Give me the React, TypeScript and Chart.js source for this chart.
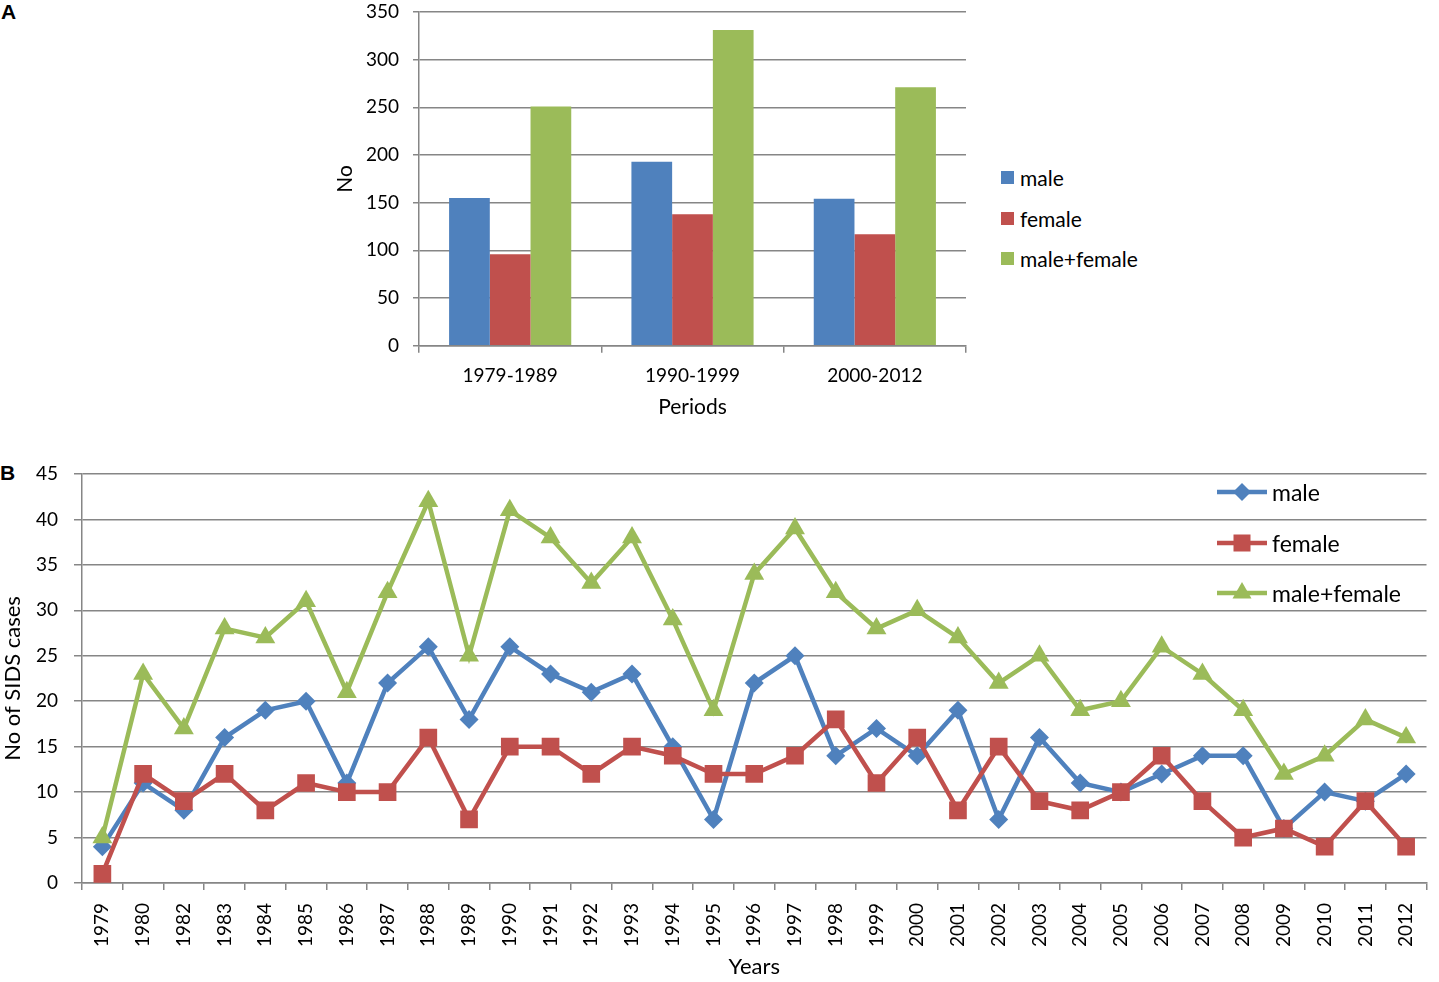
import React, { useEffect, useRef } from 'react';
import { Chart, registerables } from 'chart.js';

Chart.register(...registerables);

// ---------- data ----------
const periods = ['1979-1989', '1990-1999', '2000-2012'];
const periodMale = [155, 193, 154];
const periodFemale = [96, 138, 117];
const periodTotal = [251, 331, 271];

const years = [
  '1979', '1980', '1982', '1983', '1984', '1985', '1986', '1987', '1988', '1989',
  '1990', '1991', '1992', '1993', '1994', '1995', '1996', '1997', '1998', '1999',
  '2000', '2001', '2002', '2003', '2004', '2005', '2006', '2007', '2008', '2009',
  '2010', '2011', '2012',
];
const maleCases = [4, 11, 8, 16, 19, 20, 11, 22, 26, 18, 26, 23, 21, 23, 15, 7, 22, 25, 14, 17, 14, 19, 7, 16, 11, 10, 12, 14, 14, 6, 10, 9, 12];
const femaleCases = [1, 12, 9, 12, 8, 11, 10, 10, 16, 7, 15, 15, 12, 15, 14, 12, 12, 14, 18, 11, 16, 8, 15, 9, 8, 10, 14, 9, 5, 6, 4, 9, 4];
const totalCases = [5, 23, 17, 28, 27, 31, 21, 32, 42, 25, 41, 38, 33, 38, 29, 19, 34, 39, 32, 28, 30, 27, 22, 25, 19, 20, 26, 23, 19, 12, 14, 18, 16];

const seriesLabels = ['male', 'female', 'male+female'];
const seriesColors = ['#4F81BD', '#C0504D', '#9BBB59'];
const pointStyles = ['rectRot', 'rect', 'triangle'];
const pointRadii = [9.5, 12.5, 11.5];

const topTitleY = 'No';
const topTitleX = 'Periods';
const bottomTitleY = 'No of SIDS cases';
const bottomTitleX = 'Years';

// ---------- styles ----------
const FONT = 'Lato, "Open Sans", sans-serif';
const GRID = '#868686';

export default function App() {
  const topRef = useRef<HTMLCanvasElement | null>(null);
  const bottomRef = useRef<HTMLCanvasElement | null>(null);

  useEffect(() => {
    const barSeries = [periodMale, periodFemale, periodTotal];
    const topChart = new Chart(topRef.current as HTMLCanvasElement, {
      type: 'bar',
      data: {
        labels: periods,
        datasets: barSeries.map((d, i) => ({
          label: seriesLabels[i],
          data: d,
          backgroundColor: seriesColors[i],
          borderWidth: 0,
          categoryPercentage: 0.67,
          barPercentage: 1,
        })),
      },
      options: {
        animation: false,
        responsive: false,
        maintainAspectRatio: false,
        layout: { padding: { top: 12, right: 24, left: 0, bottom: 0 } },
        plugins: { legend: { display: false }, tooltip: { enabled: false } },
        scales: {
          x: {
            grid: {
              display: true,
              drawOnChartArea: false,
              drawTicks: true,
              tickLength: 7,
              offset: true,
              color: GRID,
              lineWidth: 1.5,
            },
            border: { display: true, color: GRID, width: 1.5 },
            ticks: { color: '#000', font: { family: FONT, size: 19 }, padding: 12 },
            title: {
              display: true,
              text: topTitleX,
              color: '#000',
              font: { family: FONT, size: 21 },
              padding: { top: 0, bottom: 10 },
            },
            afterFit: (s: any) => {
              s.height = 84.3;
              s.paddingLeft = 0;
              s.paddingRight = 0;
            },
          },
          y: {
            min: 0,
            max: 350,
            ticks: { stepSize: 50, color: '#000', font: { family: FONT, size: 19 }, padding: 14 },
            grid: { color: GRID, lineWidth: 1.5, tickLength: 6 },
            border: { display: true, color: GRID, width: 1.5 },
            title: {
              display: true,
              text: topTitleY,
              color: '#000',
              font: { family: FONT, size: 21 },
              padding: { top: 2.4, bottom: 0 },
            },
            afterFit: (s: any) => {
              s.width = 89;
              s.paddingTop = 0;
              s.paddingBottom = 0;
            },
          },
        },
      },
    });

    const lineSeries = [maleCases, femaleCases, totalCases];
    const bottomChart = new Chart(bottomRef.current as HTMLCanvasElement, {
      type: 'line',
      data: {
        labels: years,
        datasets: lineSeries.map((d, i) => ({
          label: seriesLabels[i],
          data: d,
          borderColor: seriesColors[i],
          backgroundColor: seriesColors[i],
          pointBackgroundColor: seriesColors[i],
          pointBorderColor: seriesColors[i],
          pointBorderWidth: 0,
          borderWidth: 4.5,
          pointStyle: pointStyles[i] as any,
          pointRadius: pointRadii[i],
          tension: 0,
          fill: false,
          order: 3 - i,
        })),
      },
      options: {
        animation: false,
        responsive: false,
        maintainAspectRatio: false,
        layout: { padding: { top: 34, right: 2, left: 0, bottom: 0 } },
        plugins: { legend: { display: false }, tooltip: { enabled: false } },
        scales: {
          x: {
            offset: true,
            grid: {
              display: true,
              drawOnChartArea: false,
              drawTicks: true,
              tickLength: 7,
              offset: true,
              color: GRID,
              lineWidth: 1.5,
            },
            border: { display: true, color: GRID, width: 1.5 },
            ticks: {
              autoSkip: false,
              minRotation: 90,
              maxRotation: 90,
              padding: 13,
              color: '#000',
              font: { family: FONT, size: 19 },
            },
            title: {
              display: true,
              text: bottomTitleX,
              color: '#000',
              font: { family: FONT, size: 22 },
              padding: { top: 0, bottom: 2 },
            },
            afterFit: (s: any) => {
              s.height = 99;
              s.paddingLeft = 0;
              s.paddingRight = 0;
            },
          },
          y: {
            min: 0,
            max: 45,
            ticks: { stepSize: 5, color: '#000', font: { family: FONT, size: 19 }, padding: 16 },
            grid: { color: GRID, lineWidth: 1.5, tickLength: 8 },
            border: { display: true, color: GRID, width: 1.5 },
            title: {
              display: true,
              text: bottomTitleY,
              color: '#000',
              font: { family: FONT, size: 22 },
              padding: { top: 0, bottom: 0 },
            },
            afterFit: (s: any) => {
              s.width = 82;
              s.paddingTop = 0;
              s.paddingBottom = 0;
            },
          },
        },
      },
    });

    return () => {
      topChart.destroy();
      bottomChart.destroy();
    };
  }, []);

  const panelLabel: React.CSSProperties = {
    position: 'absolute',
    fontFamily: '"Liberation Sans", Arial, sans-serif',
    fontWeight: 'bold',
    fontSize: 21,
    lineHeight: '24px',
    color: '#000',
  };

  const marker = (i: number) => {
    const c = seriesColors[i];
    if (pointStyles[i] === 'rectRot') {
      return <polygon points="25,3 34,12 25,21 16,12" fill={c} />;
    }
    if (pointStyles[i] === 'rect') {
      return <rect x={16.5} y={3.5} width={17} height={17} fill={c} />;
    }
    return <polygon points="25,1 34.5,17.5 15.5,17.5" fill={c} />;
  };

  return (
    <div
      style={{
        position: 'fixed',
        left: 0,
        top: 0,
        width: 1439,
        height: 982,
        background: '#fff',
        overflow: 'hidden',
      }}
    >
      <div style={{ ...panelLabel, left: 1, top: 0 }}>A</div>
      <div style={{ ...panelLabel, left: 0, top: 461 }}>B</div>

      <canvas
        ref={topRef}
        width={660}
        height={430}
        style={{ position: 'absolute', left: 330, top: 0, width: 660, height: 430, display: 'block' }}
      />
      <canvas
        ref={bottomRef}
        width={1439}
        height={542}
        style={{ position: 'absolute', left: 0, top: 440, width: 1439, height: 542, display: 'block' }}
      />

      {seriesLabels.map((lab, i) => (
        <div
          key={'tl' + i}
          style={{
            position: 'absolute',
            left: 1001,
            top: 157.5 + i * 40.5,
            height: 40,
            display: 'flex',
            alignItems: 'center',
            fontFamily: FONT,
            fontSize: 21,
            color: '#000',
            whiteSpace: 'nowrap',
          }}
        >
          <span style={{ display: 'inline-block', width: 13, height: 13, background: seriesColors[i], marginRight: 6 }} />
          <span>{lab}</span>
        </div>
      ))}

      {seriesLabels.map((lab, i) => (
        <div
          key={'bl' + i}
          style={{
            position: 'absolute',
            left: 1217,
            top: 491.7 + i * 50.8 - 20,
            height: 40,
            display: 'flex',
            alignItems: 'center',
            fontFamily: FONT,
            fontSize: 23,
            color: '#000',
            whiteSpace: 'nowrap',
          }}
        >
          <svg width={50} height={24} style={{ display: 'block', marginRight: 5 }}>
            <line x1={0} y1={12} x2={50} y2={12} stroke={seriesColors[i]} strokeWidth={4.5} />
            {marker(i)}
          </svg>
          <span>{lab}</span>
        </div>
      ))}
    </div>
  );
}
